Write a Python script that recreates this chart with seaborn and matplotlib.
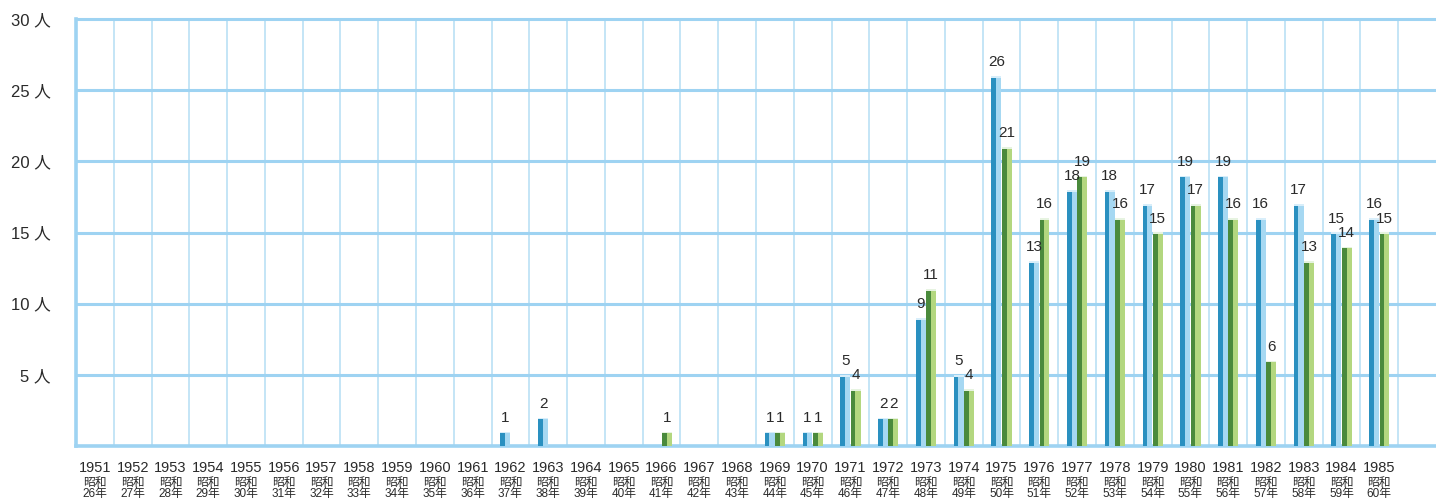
import numpy as np
import pandas as pd
import matplotlib
matplotlib.use("Agg")
import matplotlib.pyplot as plt
import matplotlib.transforms as mtransforms
from matplotlib.patches import Rectangle
import seaborn as sns

# data
years = list(range(1951, 1986))
series_a = [0, 0, 0, 0, 0, 0, 0, 0, 0, 0, 0,
            1, 2, 0, 0, 0, 0, 0, 1, 1, 5, 2, 9, 5, 26,
            13, 18, 18, 17, 19, 19, 16, 17, 15, 16]
series_b = [0, 0, 0, 0, 0, 0, 0, 0, 0, 0, 0, 0, 0, 0, 0,
            1, 0, 0, 1, 1, 4, 2, 11, 4, 21,
            16, 19, 16, 15, 17, 16, 6, 13, 14, 15]
y_ticks = [5, 10, 15, 20, 25, 30]
era_labels = [f"昭和\n{y - 1925}年" for y in years]

df = pd.DataFrame({
    "year": [str(y) for y in years] * 2,
    "value": series_a + series_b,
    "series": ["a"] * len(years) + ["b"] * len(years),
})

sns.set_style("white")
plt.rcParams["font.family"] = ["Liberation Sans", "Noto Sans CJK JP", "DejaVu Sans"]

dark = {"a": "#2a90c0", "b": "#4a8a3c"}
light = {"a": "#a6d8f2", "b": "#b3d77f"}
grid_h = "#9ed3f2"
grid_v = "#bfe3f6"
text_c = "#2a2a2a"

fig = plt.figure(figsize=(14.36, 4.99), dpi=100)
ax = fig.add_axes([76 / 1436, 53 / 499, 1360 / 1436, 427 / 499])

sns.barplot(data=df, x="year", y="value", hue="series", palette=dark,
            width=0.55, gap=0.05, saturation=1, legend=False, ax=ax,
            zorder=3, edgecolor="none", linewidth=0)

# light right half of every bar, plus labels
for cont, key in zip(ax.containers, ["a", "b"]):
    for rect in cont:
        h = rect.get_height()
        if h <= 0:
            continue
        x0, w = rect.get_x(), rect.get_width()
        ax.add_patch(Rectangle((x0 + w * 0.48, 0), w * 0.52, h,
                               facecolor=light[key], edgecolor="none", zorder=4))
        ax.add_patch(Rectangle((x0, h - 0.12), w, 0.12,
                               facecolor="#e6f3e0" if key == "b" else "#d8eefa",
                               edgecolor="none", zorder=5))
        ax.annotate(f"{int(h)}", (x0 + w / 2, h), xytext=(0, 5),
                    textcoords="offset points", ha="center", va="bottom",
                    fontsize=11, color=text_c, zorder=6)

ax.set_xlim(-0.5, len(years) + 0.5)
ax.set_ylim(0, 30)

# grid
for k in range(len(years)):
    ax.axvline(k + 0.5, color=grid_v, lw=1.3, zorder=1)
for t in y_ticks:
    ax.axhline(t, color=grid_h, lw=2.2, zorder=1, clip_on=False)

for s in ["top", "right"]:
    ax.spines[s].set_visible(False)
ax.spines["left"].set_color(grid_h)
ax.spines["left"].set_linewidth(2.6)
ax.spines["bottom"].set_color(grid_h)
ax.spines["bottom"].set_linewidth(2.6)

ax.set_yticks(y_ticks)
ax.set_yticklabels([f"{t} 人" for t in y_ticks], fontsize=12, color=text_c)
ax.set_xticks(range(len(years)))
ax.set_xticklabels([str(y) for y in years], fontsize=10.5, color=text_c)
ax.tick_params(axis="y", length=0, pad=18)
ax.tick_params(axis="x", length=0, pad=11)
ax.set_xlabel("")
ax.set_ylabel("")

trans = mtransforms.blended_transform_factory(ax.transData, ax.transAxes)
for i, lab in enumerate(era_labels):
    ax.text(i, -0.073, lab, transform=trans, ha="center", va="top",
            fontsize=8.5, color=text_c, linespacing=0.85)

fig.savefig("out.png", dpi=100)
